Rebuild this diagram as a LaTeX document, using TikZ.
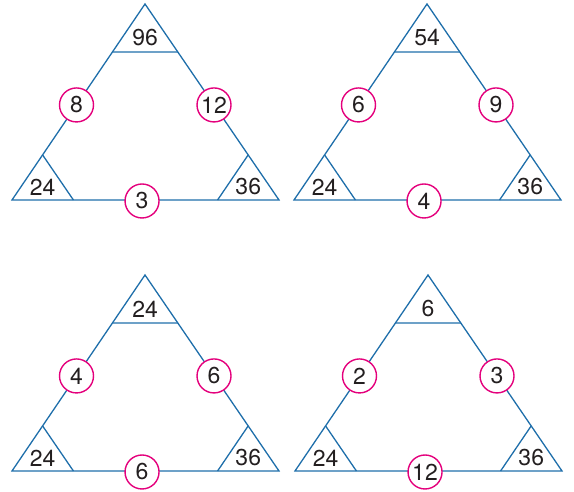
\documentclass[tikz,border=0pt]{standalone}
\usepackage{fontspec}
\setmainfont{TeX Gyre Heros}
\usetikzlibrary{calc}
\definecolor{TriBlue}{RGB}{30,110,170}
\definecolor{RingPink}{RGB}{228,0,124}
\definecolor{DigitGray}{RGB}{35,31,32}

\begin{document}
\begin{tikzpicture}[x=1pt,y=1pt,edge/.style={draw=TriBlue,line width=1.3pt,line join=miter},ring/.style={circle,draw=RingPink,fill=white,line width=1.4pt,minimum size=34pt,inner sep=0pt,font=\fontsize{23}{23}\selectfont,text=DigitGray},num/.style={font=\fontsize{23}{23}\selectfont,text=DigitGray,yshift=-2pt}]
\useasboundingbox (0,0) rectangle (574,492);
\foreach \dx/\dy/\t/\l/\r/\b [count=\i] in {0/0/96/8/12/3,282/0/54/6/9/4,0/-271/24/4/6/6,283/-271/6/2/3/12}{
  % outer triangle
  \coordinate (a\i) at (145+\dx,488+\dy);
  \coordinate (l\i) at (12+\dx,292+\dy);
  \coordinate (r\i) at (279+\dx,292+\dy);
  % corner triangles
  \coordinate (tl\i) at ($(a\i)!0.245!(l\i)$);
  \coordinate (tr\i) at ($(a\i)!0.245!(r\i)$);
  \coordinate (ll\i) at ($(l\i)!0.23!(a\i)$);
  \coordinate (lb\i) at ($(l\i)!0.23!(r\i)$);
  \coordinate (rr\i) at ($(r\i)!0.23!(a\i)$);
  \coordinate (rb\i) at ($(r\i)!0.23!(l\i)$);
  \draw[edge] (a\i)--(l\i)--(r\i)--cycle;
  \draw[edge] (tl\i)--(tr\i) (ll\i)--(lb\i) (rr\i)--(rb\i);
  \node[num] (nt\i) at (barycentric cs:a\i=1,tl\i=1,tr\i=1) {\t};
  \node[num] (nl\i) at (barycentric cs:l\i=1,ll\i=1,lb\i=1) {24};
  \node[num] (nr\i) at (barycentric cs:r\i=1,rr\i=1,rb\i=1) {36};
  % circled numbers on the sides
  \node[ring] (cl\i) at ($(a\i)!0.515!(l\i)$) {\l};
  \node[ring] (cr\i) at ($(a\i)!0.515!(r\i)$) {\r};
  \node[ring] (cb\i) at ($(l\i)!0.487!(r\i)+(0,-1)$) {\b};
}
\end{tikzpicture}
\end{document}
